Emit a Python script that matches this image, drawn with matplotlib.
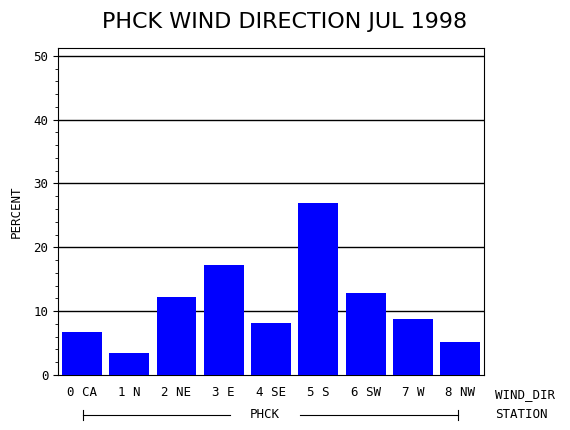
import matplotlib
matplotlib.use("Agg")
import matplotlib.pyplot as plt
from matplotlib.ticker import MultipleLocator

categories = ["0 CA", "1 N", "2 NE", "3 E", "4 SE", "5 S", "6 SW", "7 W", "8 NW"]
values = [6.8, 3.4, 12.2, 17.2, 8.1, 26.9, 12.8, 8.7, 5.1]
yticks = [0, 10, 20, 30, 40, 50]

fig = plt.figure(figsize=(5.7, 4.3), dpi=100)
ax = fig.add_axes([0.102, 0.128, 0.747, 0.76])
x = list(range(len(categories)))
ax.bar(x, values, width=0.84, color="#0000ff", zorder=3)
ax.set_xlim(-0.5, 8.5)
ax.set_ylim(0, 51.2)
ax.set_yticks(yticks)
ax.yaxis.set_minor_locator(MultipleLocator(2))
for t in yticks[1:]:
    ax.axhline(t, color="black", lw=1, zorder=1)
ax.set_xticks(x)
ax.set_xticklabels(categories, family="DejaVu Sans Mono", fontsize=9)
ax.tick_params(axis="x", length=0, pad=8)
ax.tick_params(axis="y", labelsize=9, direction="out")
for l in ax.get_yticklabels():
    l.set_family("DejaVu Sans Mono")
ax.set_ylabel("PERCENT", family="DejaVu Sans Mono", fontsize=9, labelpad=8)
fig.text(0.5, 0.95, "PHCK WIND DIRECTION JUL 1998", ha="center", va="center", fontsize=16)
fig.text(0.868, 0.082, "WIND_DIR", family="DejaVu Sans Mono", fontsize=9, va="center")
fig.text(0.868, 0.035, "STATION", family="DejaVu Sans Mono", fontsize=9, va="center")
yl = 0.035
fig.add_artist(plt.Line2D([83/570, 230/570], [yl, yl], color="black", lw=0.8))
fig.add_artist(plt.Line2D([300/570, 458/570], [yl, yl], color="black", lw=0.8))
for xe in (83/570, 458/570):
    fig.add_artist(plt.Line2D([xe, xe], [yl-0.012, yl+0.012], color="black", lw=0.8))
fig.text(265/570, yl, "PHCK", family="DejaVu Sans Mono", fontsize=9, ha="center", va="center")
fig.savefig("out.png", dpi=100)
